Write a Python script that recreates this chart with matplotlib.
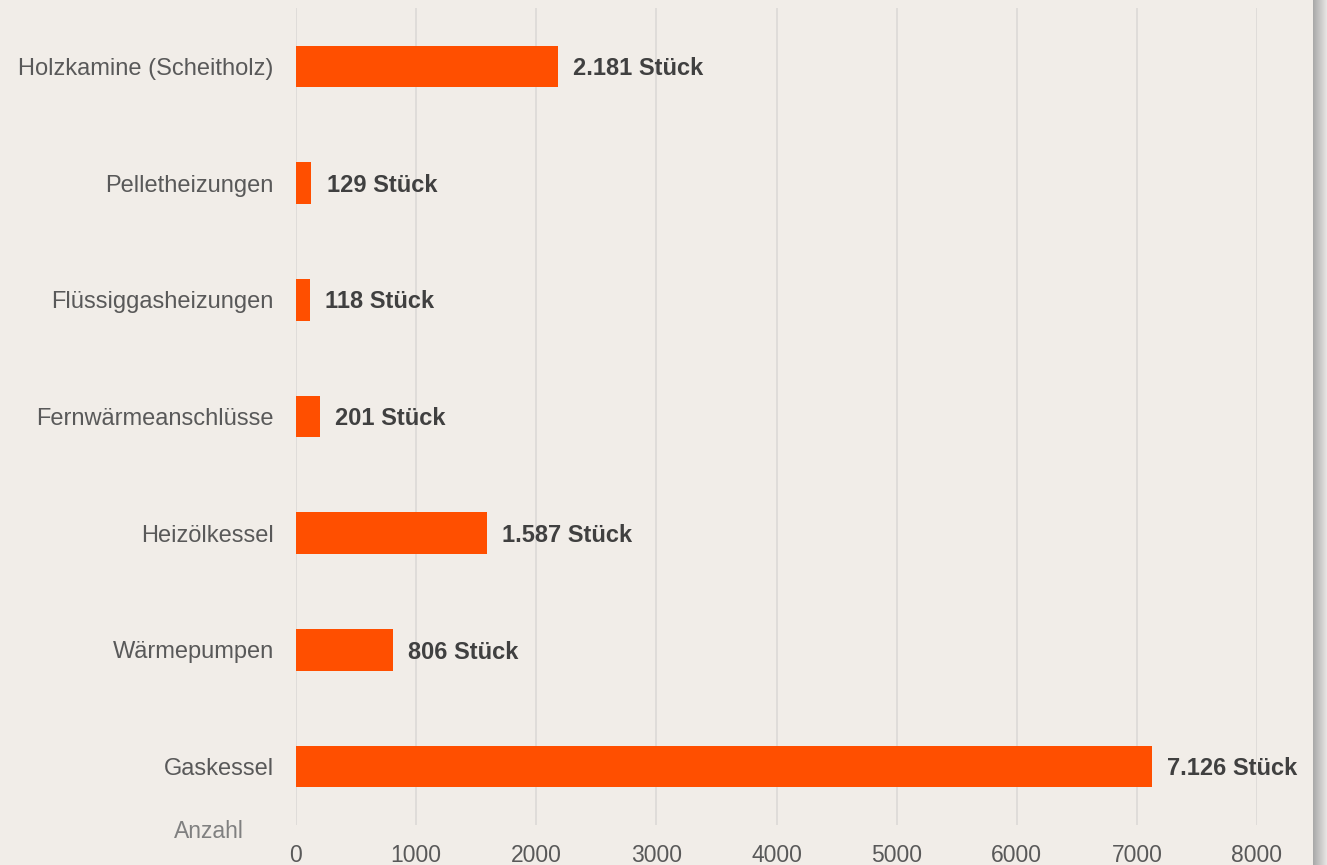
import matplotlib.pyplot as plt
import numpy as np

# data (top to bottom)
categories = ["Holzkamine (Scheitholz)", "Pelletheizungen", "Flüssiggasheizungen",
              "Fernwärmeanschlüsse", "Heizölkessel", "Wärmepumpen", "Gaskessel"]
values = [2181, 129, 118, 201, 1587, 806, 7126]
value_labels = ["2.181 Stück", "129 Stück", "118 Stück", "201 Stück",
                "1.587 Stück", "806 Stück", "7.126 Stück"]
xticks = [0, 1000, 2000, 3000, 4000, 5000, 6000, 7000, 8000]

bg = "#f1ede8"
bar_color = "#ff4f00"

W, H = 1327, 865
fig = plt.figure(figsize=(W / 100, H / 100), dpi=100, facecolor=bg)
ax = fig.add_axes([296 / W, 1 - 825 / H, (1257 - 296) / W, (825 - 8) / H])
ax.set_facecolor(bg)

y = np.arange(len(categories))
ax.barh(y, values, height=0.355, color=bar_color, zorder=3)
ax.set_ylim(len(categories) - 0.5, -0.5)
ax.set_xlim(0, 8000)

for yi, v, lab in zip(y, values, value_labels):
    ax.annotate(lab, (v, yi), xytext=(11, -1.5), textcoords="offset points",
                ha="left", va="center", fontsize=17, fontweight="bold",
                color="#404040", clip_on=False, zorder=4,
                family="Liberation Sans")

ax.set_yticks(y)
ax.set_yticklabels(categories, fontsize=17, color="#595959", family="Liberation Sans")
ax.set_xticks(xticks)
ax.set_xticklabels([str(t) for t in xticks], fontsize=16.5, color="#595959",
                   family="Liberation Sans")
ax.tick_params(axis="y", length=0, pad=16)
ax.tick_params(axis="x", length=0, pad=14)
ax.grid(axis="x", color="#dcd9d6", linewidth=1.2, zorder=0)
for s in ax.spines.values():
    s.set_visible(False)

fig.text(209 / W, 1 - 831 / H, "Anzahl", ha="center", va="center", fontsize=16.5,
         color="#808080", family="Liberation Sans")

# shadow along right edge
grad = np.linspace(0, 1, 50).reshape(1, -1)
sax = fig.add_axes([1313 / W, 0, 14 / W, 1])
sax.imshow(grad, aspect="auto", cmap=plt.cm.colors.LinearSegmentedColormap.from_list(
    "s", ["#a8a8a8", "#e8e6e4"]), extent=[0, 1, 0, 1])
sax.axis("off")

fig.savefig("out.png", dpi=100, facecolor=bg)
